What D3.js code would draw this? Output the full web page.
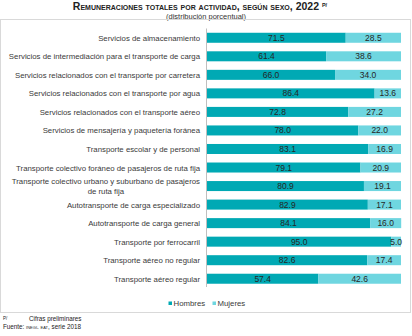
<!DOCTYPE html>
<html>
<head>
<meta charset="utf-8">
<script src="https://cdn.jsdelivr.net/npm/d3@7"></script>
<style>
  body { margin: 0; background: #fff; }
  svg { font-family: "Liberation Sans", Arial, sans-serif; }
</style>
</head>
<body>
<div class="chart"></div>
<script>
let categories = [
  'Servicios de almacenamiento',
  'Servicios de intermediación para el transporte de carga',
  'Servicios relacionados con el transporte por carretera',
  'Servicios relacionados con el transporte por agua',
  'Servicios relacionados con el transporte aéreo',
  'Servicios de mensajería y paquetería foránea',
  'Transporte escolar y de personal',
  'Transporte colectivo foráneo de pasajeros de ruta fija',
  'Transporte colectivo urbano y suburbano de pasajeros de ruta fija',
  'Autotransporte de carga especializado',
  'Autotransporte de carga general',
  'Transporte por ferrocarril',
  'Transporte aéreo no regular',
  'Transporte aéreo regular'
]
let hombres = [71.5, 61.4, 66.0, 86.4, 72.8, 78.0, 83.1, 79.1, 80.9, 82.9, 84.1, 95.0, 82.6, 57.4]
let mujeres = [28.5, 38.6, 34.0, 13.6, 27.2, 22.0, 16.9, 20.9, 19.1, 17.1, 16.0, 5.0, 17.4, 42.6]
let seriesNames = ['Hombres', 'Mujeres']
let colors = ['#00a9b4', '#6fd6e0']

let width = 412
let height = 336

let svg = d3.select('.chart')
  .append('svg')
  .attr('width', width)
  .attr('height', height)

// title block
let title = svg.append('text')
  .attr('x', 200)
  .attr('y', 10)
  .attr('text-anchor', 'middle')
  .attr('font-size', 10.5)
  .attr('font-weight', 'bold')
  .attr('font-variant', 'small-caps')
  .attr('fill', '#222')
title.append('tspan').text('Remuneraciones totales por actividad, según sexo, 2022 ')
title.append('tspan')
  .attr('font-size', 5.5)
  .attr('dy', -3.5)
  .text('P/')

svg.append('text')
  .attr('x', 206)
  .attr('y', 18.5)
  .attr('text-anchor', 'middle')
  .attr('font-size', 7.5)
  .attr('fill', '#333')
  .text('(distribución porcentual)')

// frame
svg.append('rect')
  .attr('x', 0.5)
  .attr('y', 19.5)
  .attr('width', 410)
  .attr('height', 293)
  .attr('fill', 'none')
  .attr('stroke', '#d9d9d9')

let xScale = d3.scaleLinear()
  .domain([0, 100])
  .range([207, 401])

let yScale = d3.scaleBand()
  .domain(categories)
  .range([28.5, 288])
  .paddingInner(0.46)
  .paddingOuter(0.23)

let rows = categories.map((c, i) => ({ cat: c, h: hombres[i], m: mujeres[i] }))

let stacked = d3.stack().keys(['h', 'm'])(rows)

let layers = svg.selectAll('g.layer')
  .data(stacked)
  .enter()
  .append('g')
  .attr('class', 'layer')
  .attr('fill', (d, i) => colors[i])

layers.selectAll('rect')
  .data(d => d)
  .enter()
  .append('rect')
  .attr('x', d => xScale(d[0]))
  .attr('y', d => yScale(d.data.cat))
  .attr('width', d => xScale(d[1]) - xScale(d[0]))
  .attr('height', yScale.bandwidth())

// value labels centered in each segment
stacked.forEach(layer => {
  layer.forEach(d => {
    svg.append('text')
      .attr('x', (xScale(d[0]) + xScale(d[1])) / 2)
      .attr('y', yScale(d.data.cat) + yScale.bandwidth() / 2 + 3)
      .attr('text-anchor', 'middle')
      .attr('font-size', 8.5)
      .attr('fill', '#262626')
      .text((d[1] - d[0]).toFixed(1))
  })
})

// category axis line
svg.append('line')
  .attr('x1', 206.5)
  .attr('x2', 206.5)
  .attr('y1', 28.5)
  .attr('y2', 287)
  .attr('stroke', '#bfbfbf')

// category labels, wrapped to a max width and centered as a block
let maxW = 194
categories.forEach(cat => {
  let t = svg.append('text')
    .attr('font-size', 7.8)
    .attr('fill', '#3a3a3a')
    .attr('text-anchor', 'middle')
  let words = cat.split(' ')
  let lines = [[]]
  let probe = t.append('tspan')
  words.forEach(w => {
    let cur = lines[lines.length - 1]
    probe.text(cur.concat(w).join(' '))
    if (probe.node().getComputedTextLength() > maxW && cur.length) lines.push([w])
    else cur.push(w)
  })
  let widest = d3.max(lines, l => { probe.text(l.join(' ')); return probe.node().getComputedTextLength() })
  probe.remove()
  let cx = 200 - widest / 2
  let cy = yScale(cat) + yScale.bandwidth() / 2 + 3 - (lines.length - 1) * 4.6
  lines.forEach((l, i) => {
    t.append('tspan')
      .attr('x', cx)
      .attr('y', cy + i * 9.2)
      .text(l.join(' '))
  })
})

// legend
let legendX = [168.5, 212.5]
seriesNames.forEach((name, i) => {
  svg.append('rect')
    .attr('x', legendX[i])
    .attr('y', 301.5)
    .attr('width', 3.5)
    .attr('height', 3.5)
    .attr('fill', colors[i])
  svg.append('text')
    .attr('x', legendX[i] + 5)
    .attr('y', 306)
    .attr('font-size', 7.8)
    .attr('fill', '#3a3a3a')
    .text(name)
})

// notes
svg.append('text')
  .attr('x', 3)
  .attr('y', 320)
  .attr('font-size', 4.5)
  .attr('fill', '#222')
  .text('P/')
svg.append('text')
  .attr('x', 29)
  .attr('y', 320.5)
  .attr('font-size', 6.3)
  .attr('fill', '#222')
  .text('Cifras preliminares')
let src = svg.append('text')
  .attr('x', 3)
  .attr('y', 328.5)
  .attr('font-size', 6.3)
  .attr('fill', '#222')
src.append('tspan').text('Fuente: ')
src.append('tspan').attr('font-variant', 'small-caps').text('inegi. eat')
src.append('tspan').text(', serie 2018')
</script>
</body>
</html>
